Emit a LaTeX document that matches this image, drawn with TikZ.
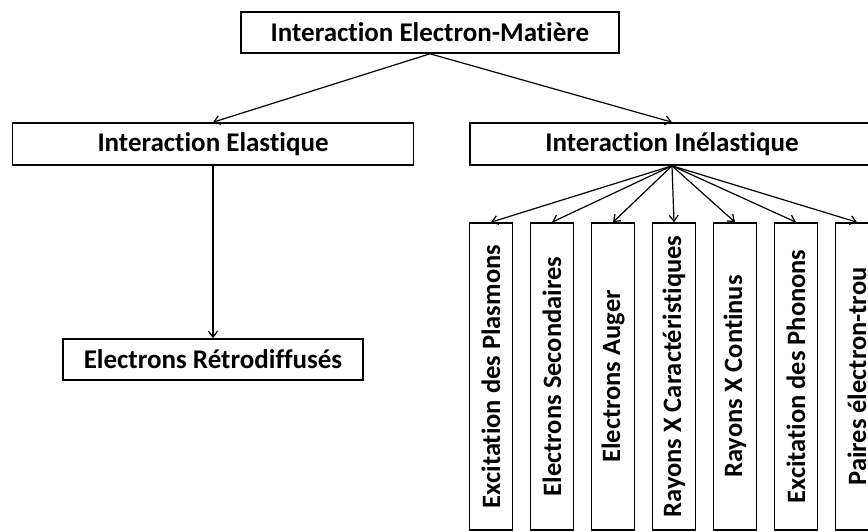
\documentclass[tikz,border=0pt]{standalone}
\usepackage{fontspec}
\setmainfont{Carlito}[Ligatures=NoCommon]
\usepackage{tikz}
\usetikzlibrary{arrows.meta}

\begin{document}
\begin{tikzpicture}[x=1pt, y=-1pt,
  box/.style={draw, line width=1.6pt, inner sep=0pt, font=\fontsize{27}{32}\selectfont\bfseries},
  vbox/.style={box, rotate=90, minimum width=307pt, minimum height=43pt, font=\fontsize{26.5}{32}\selectfont\bfseries},
  fl/.style={line width=1.2pt, -{Straight Barb[length=6pt,width=9pt]}}]
\useasboundingbox (0,0) rectangle (868,532);
\node[box, minimum width=378pt, minimum height=41pt] (inter) at (430,32.5) {Interaction Electron-Matière};
\node[box, minimum width=401pt, minimum height=42pt] (elas) at (213,144) {Interaction Elastique};
\node[box, minimum width=404pt, minimum height=42pt] (inel) at (672,144) {Interaction Inélastique};
\node[box, minimum width=300pt, minimum height=41pt] (retro) at (213,359.5) {Electrons Rétrodiffusés};
\node[vbox] (plasm) at (491,376.5) {Excitation des Plasmons};
\node[vbox] (second) at (552,376.5) {Electrons Secondaires};
\node[vbox] (auger) at (613,376.5) {Electrons Auger};
\node[vbox] (rxcar) at (674,376.5) {Rayons X Caractéristiques};
\node[vbox] (rxcont) at (735,376.5) {Rayons X Continus};
\node[vbox] (phon) at (796,376.5) {Excitation des Phonons};
\node[vbox] (paires) at (857,376.5) {Paires électron-trou};
\draw[fl] (inter.south) -- (elas.north);
\draw[fl] (inter.south) -- (inel.north);
\draw[fl] (elas.south) -- (retro.north);
\draw[fl] (inel.south) -- (plasm.east);
\draw[fl] (inel.south) -- (second.east);
\draw[fl] (inel.south) -- (auger.east);
\draw[fl] (inel.south) -- (rxcar.east);
\draw[fl] (inel.south) -- (rxcont.east);
\draw[fl] (inel.south) -- (phon.east);
\draw[fl] (inel.south) -- (paires.east);
\end{tikzpicture}
\end{document}
